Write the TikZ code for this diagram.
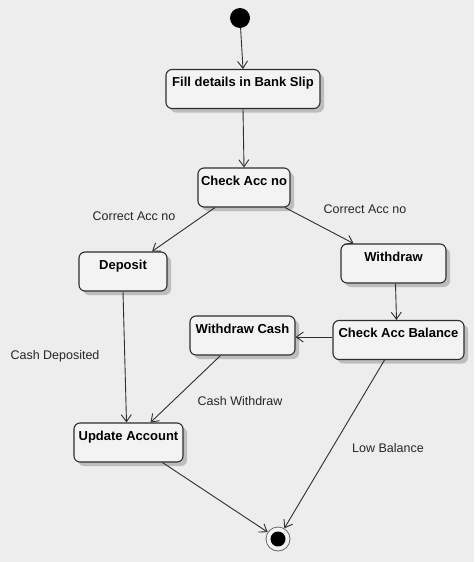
\documentclass[tikz,border=0pt]{standalone}
\usepackage{fontspec}
\setmainfont{Liberation Sans}
\usetikzlibrary{arrows.meta,shadows}

\definecolor{bggray}{HTML}{EDEDED}
\definecolor{boxgray}{HTML}{F3F3F3}
\definecolor{edgegray}{HTML}{2E2E2E}

\tikzset{
    state/.style={draw=edgegray, fill=boxgray, line width=1.1pt, rounded corners=6pt,
        font=\fontsize{13}{15}\selectfont\bfseries, text height=12pt, text depth=17pt,
        inner ysep=5pt, inner xsep=0pt, anchor=center,
        drop shadow={shadow xshift=4pt, shadow yshift=-4pt, fill=gray!60, opacity=0.8}},
    trans/.style={draw=edgegray, line width=0.9pt, -{Straight Barb[length=7pt,width=10pt]}},
    guard/.style={font=\fontsize{12.5}{15}\selectfont, text=black!85}
}

\begin{document}
\begin{tikzpicture}[x=1pt, y=-1pt]
        % Background
        \fill[bggray] (0, 0) rectangle (474, 562);
        \useasboundingbox (0, 0) rectangle (474, 562);

        % Draw start and end
        \node[circle, fill=black, minimum size=20pt, inner sep=0pt] (start) at (240, 18) {};
        \node[circle, draw=gray!80!black, fill=white!92!gray, thick, minimum size=24pt, inner sep=0pt] (end) at (278, 539) {};
        \fill[black] (end.center) circle (7.5pt);

        % Draw states
        \node[state, minimum width=154pt] (fill) at (243, 89) {Fill details in Bank Slip};
        \node[state, minimum width=92pt] (check) at (244, 187.5) {Check Acc no};
        \node[state, minimum width=88pt] (deposit) at (123, 271.5) {Deposit};
        \node[state, minimum width=105pt] (withdraw) at (393.5, 263.5) {Withdraw};
        \node[state, minimum width=105pt] (wcash) at (242.5, 335.5) {Withdraw Cash};
        \node[state, minimum width=131pt] (cbal) at (398.5, 340) {Check Acc Balance};
        \node[state, minimum width=109pt] (update) at (128.5, 442.5) {Update Account};

        % Draw transitions
        \draw[trans] (start) -- (fill.north);
        \draw[trans] (fill.south) -- (check.north);
        \draw[trans] ([xshift=-29pt]check.south) -- ([xshift=29pt]deposit.north);
        \draw[trans] ([xshift=41pt]check.south) -- ([xshift=-40pt]withdraw.north);
        \draw[trans] ([xshift=2pt]withdraw.south) -- ([xshift=-2pt]cbal.north);
        \draw[trans] ([yshift=3pt]cbal.west) -- ([yshift=-1.5pt]wcash.east);
        \draw[trans] (deposit.south) -- ([xshift=-2pt]update.north);
        \draw[trans] ([xshift=-22pt]wcash.south) -- ([xshift=22pt]update.north);
        \draw[trans] ([xshift=34pt]update.south) -- (end);
        \draw[trans] ([xshift=-14pt]cbal.south) -- (end);

        % Add guards
        \node[guard] (gdeposit) at (134, 216) {Correct Acc no};
        \node[guard] (gwithdraw) at (365, 209) {Correct Acc no};
        \node[guard] (gcashdep) at (55, 356) {Cash Deposited};
        \node[guard] (gcashwd) at (240, 401) {Cash Withdraw};
        \node[guard] (glow) at (388, 448) {Low Balance};
    \end{tikzpicture}
\end{document}
